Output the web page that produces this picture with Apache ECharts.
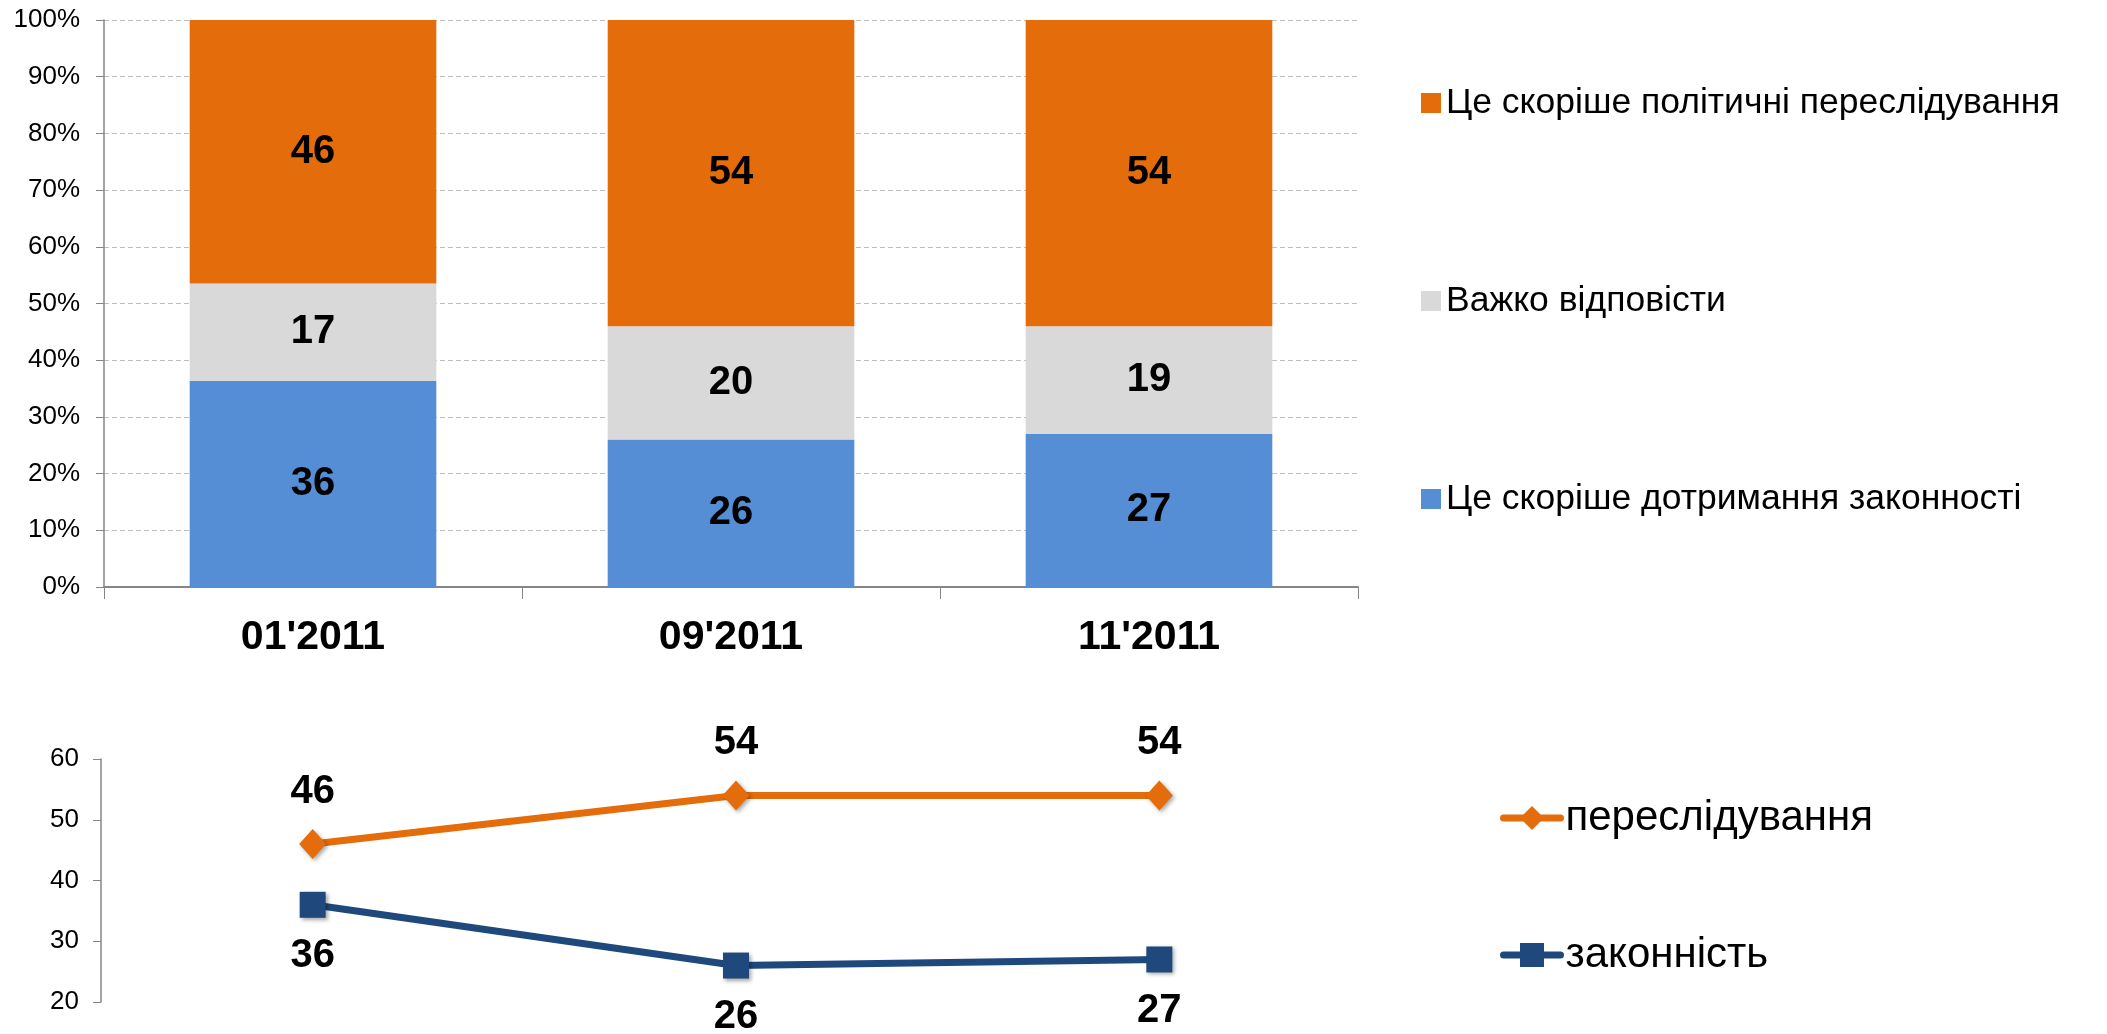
<!DOCTYPE html>
<html>
<head>
<meta charset="utf-8">
<script src="https://cdn.jsdelivr.net/npm/echarts@6/dist/echarts.min.js"></script>
<style>
  html, body { margin: 0; padding: 0; background: #fff; }
  #chart { width: 2107px; height: 1034px; }
</style>
</head>
<body>
<div id="chart"></div>
<script>
// survey waves
const categories = ["01'2011", "09'2011", "11'2011"];

// stacked bars (raw answers, %)
const lawfulness = [36, 26, 27];
const hardToSay = [17, 20, 19];
const persecution = [46, 54, 54];

// names
const barNames = [
  "Це скоріше дотримання законності",
  "Важко відповісти",
  "Це скоріше політичні переслідування"
];
const lineNames = ["переслідування", "законність"];

const FONT = "'Liberation Sans', Arial, sans-serif";

// 100% stack: shares of each wave's total
const totals = categories.map((c, i) => lawfulness[i] + hardToSay[i] + persecution[i]);
const toShare = arr => arr.map((v, i) => (v / totals[i]) * 100);

const chart = echarts.init(document.getElementById("chart"));

function barSeries(name, raw, color) {
  return {
    name: name,
    type: "bar",
    stack: "total",
    xAxisIndex: 0,
    yAxisIndex: 0,
    barWidth: "59%",
    data: toShare(raw),
    itemStyle: { color: color },
    label: {
      show: true,
      position: "inside",
      formatter: p => raw[p.dataIndex],
      color: "#000",
      fontFamily: FONT,
      fontWeight: "bold",
      fontSize: 40
    }
  };
}

const markerShadow = {
  shadowBlur: 4,
  shadowOffsetX: 2,
  shadowOffsetY: 2,
  shadowColor: "rgba(0,0,0,0.35)"
};

chart.setOption({
  animation: false,
  textStyle: { fontFamily: FONT },
  grid: [
    { left: 104, top: 20, right: 749, bottom: 447 },
    { left: 101, top: 759, right: 736, bottom: 32 }
  ],
  legend: [
    {
      data: [barNames[2], barNames[1], barNames[0]],
      orient: "vertical",
      left: 1416,
      top: 78,
      itemWidth: 20,
      itemHeight: 20,
      itemGap: 158,
      icon: "rect",
      selectedMode: false,
      textStyle: { fontFamily: FONT, fontSize: 35.5, lineHeight: 40, color: "#000" }
    },
    {
      data: lineNames,
      orient: "vertical",
      left: 1495,
      top: 789,
      itemWidth: 57,
      itemHeight: 30,
      itemGap: 89,
      selectedMode: false,
      lineStyle: { width: 7, cap: "round" },
      textStyle: { fontFamily: FONT, fontSize: 42, lineHeight: 48, color: "#000" }
    }
  ],
  xAxis: [
    {
      type: "category",
      gridIndex: 0,
      data: categories,
      axisLine: { lineStyle: { color: "#868686", width: 2 } },
      axisTick: { show: true, length: 12, lineStyle: { color: "#868686" } },
      axisLabel: {
        margin: 30,
        color: "#000",
        fontFamily: FONT,
        fontWeight: "bold",
        fontSize: 41
      }
    },
    {
      type: "category",
      gridIndex: 1,
      data: categories,
      show: false
    }
  ],
  yAxis: [
    {
      type: "value",
      gridIndex: 0,
      min: 0,
      max: 100,
      interval: 10,
      axisLine: { show: true, lineStyle: { color: "#868686", width: 1.5 } },
      axisTick: { show: true, length: 8, lineStyle: { color: "#868686" } },
      axisLabel: {
        formatter: "{value}%",
        margin: 24,
        color: "#000",
        fontFamily: FONT,
        fontSize: 26
      },
      splitLine: { show: true, lineStyle: { color: "#BFBFBF", type: [5, 3], width: 1 } }
    },
    {
      type: "value",
      gridIndex: 1,
      min: 20,
      max: 60,
      interval: 10,
      axisLine: { show: true, lineStyle: { color: "#868686", width: 1.5 } },
      axisTick: { show: true, length: 8, lineStyle: { color: "#868686" } },
      axisLabel: {
        margin: 22,
        color: "#000",
        fontFamily: FONT,
        fontSize: 26
      },
      splitLine: { show: false }
    }
  ],
  series: [
    barSeries(barNames[0], lawfulness, "#558ED5"),
    barSeries(barNames[1], hardToSay, "#D9D9D9"),
    barSeries(barNames[2], persecution, "#E46C0A"),
    {
      name: lineNames[0],
      type: "line",
      xAxisIndex: 1,
      yAxisIndex: 1,
      data: persecution,
      symbol: "diamond",
      symbolSize: [27, 30],
      lineStyle: { color: "#E46C0A", width: 7 },
      itemStyle: Object.assign({ color: "#E46C0A" }, markerShadow),
      label: {
        show: true,
        position: "top",
        distance: 17,
        color: "#000",
        fontFamily: FONT,
        fontWeight: "bold",
        fontSize: 40
      }
    },
    {
      name: lineNames[1],
      type: "line",
      xAxisIndex: 1,
      yAxisIndex: 1,
      data: lawfulness,
      symbol: "rect",
      symbolSize: 26,
      lineStyle: { color: "#1F497D", width: 7 },
      itemStyle: Object.assign({ color: "#1F497D" }, markerShadow),
      label: {
        show: true,
        position: "bottom",
        distance: 18,
        color: "#000",
        fontFamily: FONT,
        fontWeight: "bold",
        fontSize: 40
      }
    }
  ]
});
</script>
</body>
</html>
